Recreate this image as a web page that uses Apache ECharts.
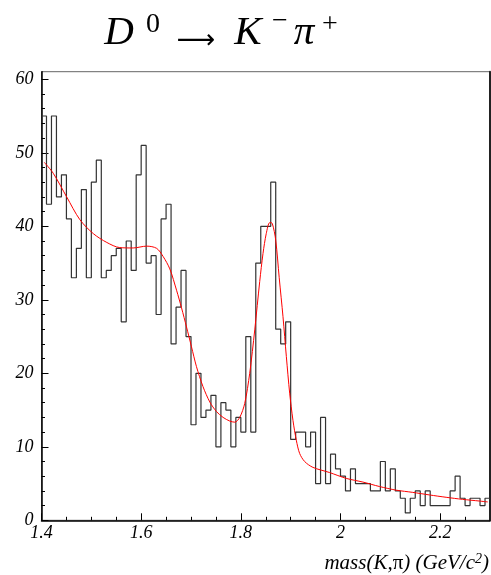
<!DOCTYPE html>
<html>
<head>
<meta charset="utf-8">
<script src="https://cdn.jsdelivr.net/npm/echarts@6/dist/echarts.min.js"></script>
<style>
  html, body { margin: 0; padding: 0; background: #fff; }
  #massChart { width: 491px; height: 575px; }
</style>
</head>
<body>
<div id="massChart"></div>
<script>
const binStart = 1.4;
const binWidth = 0.01;
const binCounts = [
  55, 43, 55, 44, 47, 41, 33, 37, 45, 33, 46, 49, 33, 34, 36, 37, 27, 38, 34, 47,
  51, 35, 36, 28, 41, 43, 24, 29, 34, 25, 13, 20, 14, 15, 17, 10, 16, 15, 10, 14,
  12, 25, 12, 35, 40, 40, 46, 26, 24, 27, 11, 12, 12, 10, 12, 5, 14, 5, 9, 7,
  6, 4, 7, 5, 5, 5, 4, 4, 8, 4, 7, 4, 3, 1, 3, 4, 2, 4, 2, 2,
  2, 2, 4, 6, 3, 2, 3, 3, 2, 3,
];
const fitMass = [
  1.4056, 1.4237, 1.4505, 1.477, 1.504, 1.531, 1.557, 1.584, 1.611, 1.631,
  1.644, 1.6575, 1.671, 1.681, 1.691, 1.701, 1.711, 1.724, 1.7377, 1.751,
  1.7644, 1.7778, 1.7878, 1.7978, 1.8078, 1.8178, 1.8279, 1.8379, 1.8445, 1.851,
  1.858, 1.863, 1.87, 1.877, 1.8846, 1.8913, 1.898, 1.9046, 1.9113, 1.918,
  1.928, 1.9447, 1.978, 2.0116, 2.045, 2.078, 2.1118, 2.145, 2.1786, 2.212,
  2.245, 2.2788, 2.2955,
];
const fitValue = [
  48.7, 47.2, 44.0, 40.9, 39.0, 37.8, 37.1, 37.05, 37.3, 37.0,
  35.9, 34.2, 31.3, 28.9, 26.3, 23.6, 20.9, 18.2, 16.1, 14.8,
  14.0, 13.5, 13.35, 14.0, 15.9, 20.0, 25.9, 32.5, 36.3, 39.0,
  40.5, 40.4, 38.1, 33.0, 27.7, 22.3, 17.3, 13.6, 10.9, 9.1,
  8.0, 7.2, 6.5, 5.7, 5.2, 4.6, 4.1, 3.8, 3.45, 3.13,
  2.85, 2.62, 2.5,
];
const xTickValues = [1.4, 1.6, 1.8, 2.0, 2.2];
const yTickValues = [0, 10, 20, 30, 40, 50, 60];

const serif = "Liberation Serif";

// histogram outline: one point per bin low edge, plus the last upper edge
const histData = binCounts.map((c, i) => [binStart + i * binWidth, c]);
histData.push([binStart + binCounts.length * binWidth, binCounts[binCounts.length - 1]]);
const fitData = fitMass.map((m, i) => [m, fitValue[i]]);

// title pieces: "top" aligned, the height moves each piece up or down
const titleMain = { fontFamily: serif, fontStyle: "italic", fontWeight: "normal", fontSize: 41, lineHeight: 52, height: 52, verticalAlign: "top", align: "center", color: "#000" };
const titleSup = { fontFamily: serif, fontStyle: "normal", fontWeight: "normal", fontSize: 28, lineHeight: 29, height: 35, verticalAlign: "top", align: "center", color: "#000" };

const massChart = echarts.init(document.getElementById("massChart"));
massChart.setOption({
  animation: false,
  backgroundColor: "#fff",
  title: {
    text: "{d|D}{s0|0}{ar|⟶}{k|K}{sm|−}{p|π}{sp|+}",
    left: 97,
    top: 7,
    padding: 0,
    textStyle: {
      fontWeight: "normal",
      rich: {
        d: { ...titleMain, width: 44 },
        s0: { ...titleSup, width: 24 },
        ar: { fontFamily: "DejaVu Sans", fontWeight: "normal", fontSize: 27, lineHeight: 50, height: 36, verticalAlign: "bottom", align: "center", width: 62, color: "#000" },
        k: { ...titleMain, width: 42 },
        sm: { ...titleSup, height: 29, width: 22 },
        p: { ...titleMain, width: 26 },
        sp: { ...titleSup, width: 26 },
      },
    },
  },
  grid: {
    left: 41.5,
    right: 1,
    top: 71.7,
    bottom: 54.7,
    show: true,
    borderColor: "#666",
    borderWidth: 1,
    outerBoundsMode: "none",
  },
  xAxis: {
    type: "value",
    min: 1.4,
    max: 2.3,
    interval: 0.2,
    axisLine: { show: true, onZero: false, lineStyle: { color: "#000", width: 1.5 } },
    axisTick: { show: true, inside: true, length: 7, customValues: xTickValues, lineStyle: { color: "#000" } },
    minorTick: { show: true, splitNumber: 4, length: 3.5, lineStyle: { color: "#000" } },
    splitLine: { show: false },
    axisLabel: {
      customValues: xTickValues,
      margin: 4,
      color: "#000",
      fontFamily: serif,
      fontStyle: "italic",
      fontSize: 18,
      formatter: (v) => String(+v.toFixed(1)),
    },
  },
  yAxis: [
    {
      type: "value",
      min: 0,
      max: 61.03,
      interval: 10,
      axisLine: { show: true, onZero: false, lineStyle: { color: "#000", width: 1.5 } },
      axisTick: { show: true, inside: true, length: 7, customValues: yTickValues, lineStyle: { color: "#000" } },
      minorTick: { show: true, splitNumber: 5, length: 3.5, lineStyle: { color: "#000" } },
      splitLine: { show: false },
      axisLabel: {
        customValues: yTickValues,
        margin: 8,
        color: "#000",
        fontFamily: serif,
        fontStyle: "italic",
        fontSize: 18,
      },
    },
    {
      type: "value",
      position: "right",
      min: 0,
      max: 61.03,
      axisLine: { show: true, lineStyle: { color: "#222", width: 2 } },
      axisTick: { show: false },
      axisLabel: { show: false },
      splitLine: { show: false },
    },
  ],
  graphic: [
    {
      type: "text",
      right: 2,
      top: 552,
      style: {
        text: "{t|mass(K,}{p|π}{t|) (GeV/c}{s|2}{t|)}",
        rich: {
          t: { fontFamily: serif, fontStyle: "italic", fontSize: 21, lineHeight: 22, verticalAlign: "bottom", fill: "#000" },
          p: { fontFamily: serif, fontSize: 21, lineHeight: 22, verticalAlign: "bottom", fill: "#000" },
          s: { fontFamily: serif, fontStyle: "italic", fontSize: 14, lineHeight: 8, verticalAlign: "top", fill: "#000" },
        },
      },
    },
  ],
  series: [
    {
      type: "line",
      data: histData,
      step: "end",
      symbol: "none",
      lineStyle: { color: "#333", width: 1.2 },
      z: 2,
    },
    {
      type: "line",
      data: fitData,
      smooth: 0.3,
      symbol: "none",
      lineStyle: { color: "#ff0000", width: 1 },
      z: 3,
    },
  ],
});
window.addEventListener("resize", () => {
  massChart.resize();
});
</script>
</body>
</html>
